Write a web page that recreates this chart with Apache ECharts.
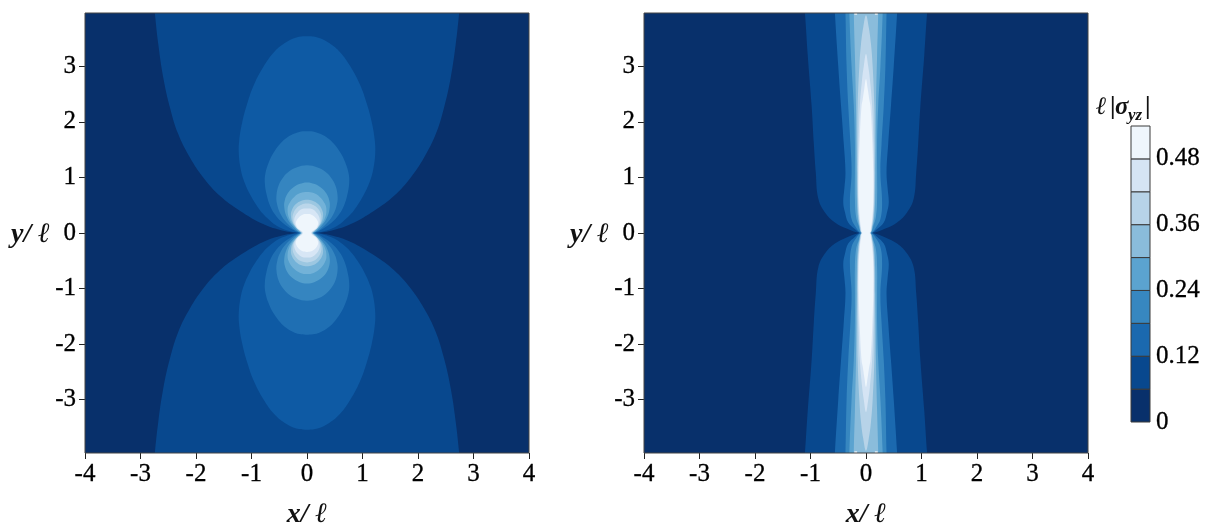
<!DOCTYPE html>
<html>
<head>
<meta charset="utf-8">
<style>html,body{margin:0;background:#fff;}#chart{width:1207px;height:524px;}</style>
<script src="https://cdn.jsdelivr.net/npm/echarts@6/dist/echarts.min.js"></script>
</head>
<body>
<div id="chart"></div>
<script>
// axis ranges and ticks
const xMin = -4, xMax = 4, yMin = -3.96, yMax = 3.96;
const xTicks = [-4, -3, -2, -1, 0, 1, 2, 3, 4];
const yTicks = [-3, -2, -1, 0, 1, 2, 3];
const cbTicks = [0, 0.12, 0.24, 0.36, 0.48];
const cbLevels = [0, 0.06, 0.12, 0.18, 0.24, 0.30, 0.36, 0.42, 0.48, 0.54];
const cbColors = ['#08306b', '#08488e', '#1b69af', '#3787c0', '#5ba3d0', '#8abcdb', '#b7d3e8', '#d5e4f4', '#eff6fc'];
const bgColor = '#08306b';

// left panel: contour outlines, one quadrant each [x, y], mirrored below
const leftOuter = [[2.76, 4.2], [2.74, 3.94], [2.68, 3.40], [2.59, 2.80], [2.47, 2.26], [2.32, 1.78], [2.11, 1.36], [1.87, 1.00], [1.57, 0.67], [1.21, 0.40], [0.79, 0.16], [0.43, 0.04], [0.14, 0]];
const leftL2 = [[0, 3.54], [0.19, 3.52], [0.40, 3.42], [0.60, 3.25], [0.78, 3.00], [0.95, 2.68], [1.08, 2.32], [1.17, 1.98], [1.22, 1.68], [1.23, 1.45], [1.20, 1.18], [1.14, 0.95], [1.03, 0.70], [0.91, 0.50], [0.79, 0.34], [0.64, 0.20], [0.49, 0.10], [0.30, 0.03], [0.13, 0]];
const leftL3 = [[0, 1.83], [0.14, 1.82], [0.25, 1.78], [0.37, 1.71], [0.48, 1.61], [0.60, 1.45], [0.69, 1.27], [0.75, 1.07], [0.76, 0.90], [0.73, 0.70], [0.67, 0.50], [0.59, 0.35], [0.48, 0.22], [0.28, 0.07], [0.12, 0]];
const leftL4 = [[0, 1.22], [0.19, 1.18], [0.32, 1.11], [0.43, 1.00], [0.51, 0.86], [0.55, 0.68], [0.54, 0.52], [0.47, 0.33], [0.33, 0.15], [0.11, 0]];
const leftL5 = [[0, 0.91], [0.14, 0.88], [0.26, 0.81], [0.35, 0.71], [0.40, 0.59], [0.41, 0.47], [0.37, 0.30], [0.27, 0.14], [0.10, 0]];
const leftL6 = [[0, 0.74], [0.12, 0.72], [0.23, 0.65], [0.32, 0.53], [0.35, 0.42], [0.32, 0.26], [0.22, 0.11], [0.09, 0]];
const leftL7 = [[0, 0.60], [0.10, 0.58], [0.20, 0.52], [0.27, 0.42], [0.29, 0.32], [0.26, 0.19], [0.16, 0.07], [0.08, 0]];
const leftL8 = [[0, 0.53], [0.10, 0.51], [0.18, 0.46], [0.24, 0.37], [0.26, 0.27], [0.23, 0.15], [0.13, 0.04], [0.08, 0]];
const leftL9 = [[0, 0.44], [0.09, 0.43], [0.16, 0.38], [0.21, 0.31], [0.23, 0.22], [0.19, 0.10], [0.11, 0.03], [0.07, 0]];
const leftL10 = [[0, 0.34], [0.08, 0.33], [0.14, 0.29], [0.19, 0.22], [0.20, 0.16], [0.16, 0.08], [0.09, 0.03], [0.07, 0]];
const leftContours = [leftOuter, leftL2, leftL3, leftL4, leftL5, leftL6, leftL7, leftL8, leftL9, leftL10];
const leftColors = ['#08488e', '#0e5aa4', '#1f6fb3', '#3585c0', '#549fcd', '#73b2d8', '#9cc7e1', '#bad6ea', '#d7e6f5', '#eff6fc'];

// right panel
const rightR1 = [[1.13, 4.2], [1.10, 3.95], [1.05, 3.2], [0.98, 2.29], [0.94, 1.6], [0.905, 1.09], [0.86, 0.62], [0.74, 0.37], [0.56, 0.19], [0.35, 0.08], [0.11, 0]];
const rightR2 = [[0.57, 4.2], [0.56, 3.95], [0.50, 3], [0.45, 2.29], [0.40, 1.6], [0.37, 1.09], [0.39, 0.8], [0.41, 0.55], [0.38, 0.38], [0.32, 0.19], [0.2, 0.07], [0.10, 0]];
const rightR3 = [[0.38, 4.2], [0.37, 3.95], [0.35, 3], [0.32, 2.29], [0.28, 1.6], [0.26, 1.09], [0.29, 0.55], [0.26, 0.25], [0.18, 0.10], [0.09, 0]];
const rightR4 = [[0.30, 4.2], [0.30, 3.95], [0.26, 3], [0.22, 2.29], [0.20, 1.6], [0.20, 1.09], [0.20, 0.62], [0.18, 0.3], [0.13, 0.12], [0.08, 0]];
const rightR5 = [[0.22, 4.2], [0.22, 3.95], [0.20, 3.2], [0.18, 2.29], [0.175, 1.6], [0.17, 1.09], [0.165, 0.62], [0.15, 0.3], [0.115, 0.1], [0.075, 0]];
const rightR6 = [[0, 3.92], [0.05, 3.7], [0.09, 3.4], [0.12, 3.0], [0.15, 2.29], [0.155, 1.6], [0.155, 1.09], [0.15, 0.62], [0.135, 0.3], [0.105, 0.1], [0.07, 0]];
const rightR7 = [[0, 3.22], [0.04, 3.0], [0.07, 2.77], [0.11, 2.29], [0.135, 1.6], [0.145, 1.09], [0.14, 0.62], [0.125, 0.3], [0.10, 0.1], [0.07, 0]];
const rightR8 = [[0, 2.77], [0.03, 2.6], [0.06, 2.4], [0.08, 2.29], [0.11, 1.75], [0.13, 1.09], [0.13, 0.55], [0.11, 0.25], [0.09, 0.1], [0.065, 0]];
const rightContours = [rightR1, rightR2, rightR3, rightR4, rightR5, rightR6, rightR7, rightR8];
const rightColors = cbColors.slice(1);
// little white specks on the top and bottom edge of the right panel
const rightSpeck = [[0.16, 3.93], [0.21, 3.93], [0.21, 4.0], [0.16, 4.0]];

const FONT = '"Liberation Serif", "Times New Roman", serif';
const INK = '#111';

function lobePoints(pts, sign, api){
	let left = pts.filter(p => p[0] !== 0).map(p => api.coord([-p[0], sign * p[1]])).reverse();
	let right = pts.map(p => api.coord([p[0], sign * p[1]]));
	return left.concat(right);
}

function contourSeries(xi, contours, colors){
	return {
		type: 'custom',
		xAxisIndex: xi,
		yAxisIndex: xi,
		coordinateSystem: 'cartesian2d',
		clip: true,
		silent: true,
		z: 2,
		data: contours.map((c, i) => [i]),
		renderItem: (params, api) => {
			let pts = contours[params.dataIndex];
			let fill = colors[params.dataIndex];
			return {
				type: 'group',
				children: [1, -1].map(sign => ({
					type: 'polygon',
					shape: {points: lobePoints(pts, sign, api), smooth: 0.4},
					style: {fill: fill, stroke: null}
				}))
			};
		}
	};
}

function speckSeries(xi){
	return {
		type: 'custom',
		xAxisIndex: xi,
		yAxisIndex: xi,
		clip: true,
		silent: true,
		z: 3,
		data: [[1, 1], [-1, 1], [1, -1], [-1, -1]],
		renderItem: (params, api) => {
			let sx = api.value(0), sy = api.value(1);
			return {
				type: 'polygon',
				shape: {points: rightSpeck.map(p => api.coord([sx * p[0], sy * p[1]]))},
				style: {fill: '#eff6fc'}
			};
		}
	};
}

function frameSeries(xi, x0, x1, y0, y1){
	return {
		type: 'custom',
		xAxisIndex: xi,
		yAxisIndex: xi,
		clip: false,
		silent: true,
		z: 4,
		data: [[0]],
		renderItem: (params, api) => {
			let a = api.coord([x0, y1]);
			let b = api.coord([x1, y0]);
			return {
				type: 'rect',
				shape: {x: a[0], y: a[1], width: b[0] - a[0], height: b[1] - a[1]},
				style: {fill: null, stroke: '#444', lineWidth: 1}
			};
		}
	};
}

const labelStyle = {fontFamily: FONT, fontSize: 25, color: '#000', textBorderColor: '#000', textBorderWidth: 0.3};
const nameRich = {i: {fontFamily: FONT, fontSize: 28, fontStyle: 'italic', fontWeight: 'bold', color: INK}};

function xAxisFor(grid){
	return {
		type: 'value', gridIndex: grid, min: xMin, max: xMax, interval: 1,
		name: '{i|x/ \u2113}', nameLocation: 'middle', nameGap: 48,
		nameTextStyle: {rich: nameRich},
		splitLine: {show: false},
		axisLine: {show: false, onZero: false},
		axisTick: {show: true, length: 6, lineStyle: {color: '#222', width: 1}, customValues: xTicks},
		axisLabel: Object.assign({margin: 9, customValues: xTicks}, labelStyle)
	};
}

function yAxisFor(grid){
	return {
		type: 'value', gridIndex: grid, min: yMin, max: yMax,
		name: '{i|y/ \u2113}', nameLocation: 'middle', nameGap: 29, nameRotate: 0,
		nameTextStyle: {rich: nameRich, padding: [4, 0, 0, 0]},
		splitLine: {show: false},
		axisLine: {show: false, onZero: false},
		axisTick: {show: true, length: 6, lineStyle: {color: '#222', width: 1}, customValues: yTicks},
		axisLabel: Object.assign({margin: 9, padding: [2, 0, 0, 0], customValues: yTicks}, labelStyle)
	};
}

function titleText(text, x, y, size, style){
	return {
		type: 'text', x: x, y: y,
		style: {text: text, fontFamily: FONT, fontSize: size, fontStyle: style, fontWeight: 'bold', fill: INK, textVerticalAlign: 'middle'}
	};
}

let chart = echarts.init(document.getElementById('chart'), null, {renderer: 'canvas'});
chart.setOption({
	animation: false,
	backgroundColor: '#fff',
	grid: [
		{left: 85, top: 13, width: 444, height: 440, show: true, backgroundColor: bgColor, borderWidth: 0, outerBoundsMode: 'none'},
		{left: 644, top: 13, width: 444, height: 440, show: true, backgroundColor: bgColor, borderWidth: 0, outerBoundsMode: 'none'},
		{left: 1131, top: 126, width: 19, height: 296, show: false, outerBoundsMode: 'none'}
	],
	xAxis: [
		xAxisFor(0),
		xAxisFor(1),
		{type: 'value', gridIndex: 2, min: 0, max: 1, show: false}
	],
	yAxis: [
		yAxisFor(0),
		yAxisFor(1),
		{
			type: 'value', gridIndex: 2, min: 0, max: 0.54, position: 'right',
			splitLine: {show: false},
			axisLine: {show: false},
			axisTick: {show: false},
			axisLabel: Object.assign({margin: 6, padding: [9, 0, 0, 0], customValues: cbTicks}, labelStyle)
		}
	],
	series: [
		contourSeries(0, leftContours, leftColors),
		frameSeries(0, xMin, xMax, yMin, yMax),
		contourSeries(1, rightContours, rightColors),
		speckSeries(1),
		frameSeries(1, xMin, xMax, yMin, yMax),
		{
			type: 'custom',
			xAxisIndex: 2,
			yAxisIndex: 2,
			silent: true,
			data: cbColors.map((c, i) => [cbLevels[i], cbLevels[i + 1]]),
			renderItem: (params, api) => {
				let a = api.coord([0, api.value(1)]);
				let b = api.coord([1, api.value(0)]);
				return {
					type: 'rect',
					shape: {x: a[0], y: a[1], width: b[0] - a[0], height: b[1] - a[1]},
					style: {fill: cbColors[params.dataIndex], stroke: '#3a3a3a', lineWidth: 1}
				};
			}
		}
	],
	graphic: [
		titleText('\u2113', 1096, 108, 25, 'italic'),
		titleText('|', 1110, 108, 25, 'normal'),
		titleText('\u03c3', 1115, 108, 25, 'italic'),
		titleText('yz', 1128, 116, 17, 'italic'),
		titleText('|', 1145, 108, 25, 'normal')
	]
});
</script>
</body>
</html>
